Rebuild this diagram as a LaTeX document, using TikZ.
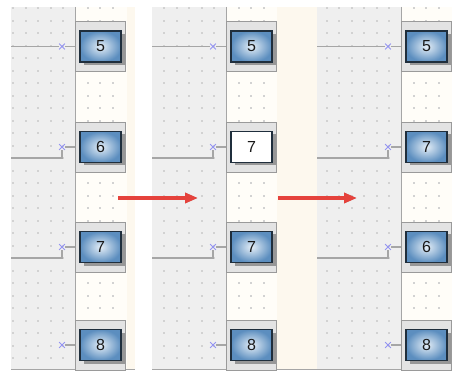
\documentclass[tikz,border=0pt]{standalone}
\usepackage{fontspec}
\setmainfont{Liberation Sans}
\usepackage{tikz}
\usetikzlibrary{arrows.meta, shapes.misc, shadows}
\definecolor{panelgray}{HTML}{EFEFEF}
\definecolor{gridgray}{HTML}{D2D2D2}
\definecolor{lightcream}{HTML}{FFFDF8}
\definecolor{cream}{HTML}{FDF8EE}
\definecolor{edgegray}{HTML}{A6A6A6}
\definecolor{framegray}{HTML}{E3E3E3}
\definecolor{frameedge}{HTML}{9A9A9A}
\definecolor{cellblue}{HTML}{5C8EBF}
\definecolor{cellglow}{HTML}{E4EEF7}
\definecolor{celledge}{HTML}{1F2E3C}
\definecolor{markblue}{HTML}{9494F2}
\definecolor{arrowred}{HTML}{E5423C}

\begin{document}
\begin{tikzpicture}[x=1pt, y=-1pt,
  every node/.style={font=\fontsize{16}{19}\selectfont, text=black!90},
  frame/.style={draw=frameedge, fill=framegray, minimum width=50pt, minimum height=50pt, inner sep=0pt},
  cell/.style={draw=celledge, line width=1.2pt, shading=radial, inner color=cellglow, outer color=cellblue,
    minimum width=41pt, minimum height=31pt, inner sep=0pt,
    drop shadow={shadow xshift=3.5pt, shadow yshift=-3pt, fill=black!70, opacity=.5}},
  cellw/.style={cell, shading=radial, inner color=white, outer color=white},
  marker/.style={cross out, draw=markblue, line width=0.8pt, minimum size=5pt, inner sep=0pt},
  wire/.style={draw=edgegray, line width=1.3pt},
  divider/.style={draw=edgegray, line width=1pt},
  flow/.style={-{Triangle[length=13pt, width=10pt]}, line width=3.5pt, arrowred},
  flowshadow/.style={flow, gray, opacity=.35, yshift=-1.5pt}
]
\useasboundingbox[fill=white] (0,0) rectangle (452,371);

% Panel 1: before
\fill[panelgray] (11,7) rectangle (75,369);
\fill[lightcream] (75,7) rectangle (127,369);
\fill[cream] (127,7) rectangle (135,369);
\foreach \x in {13,25.5,38,50.5,63,87.5,100,112.5}
  \foreach \y in {8.3,20.8,...,358.3}
    \fill[gridgray] (\x-1,\y-1) rectangle +(2,2);
\draw[divider] (75,7) -- (75,369);
\draw[divider] (11,369) -- (135,369);
\node[frame] (p1f5) at (100,46.5) {};
\node[frame] (p1f6) at (100,147) {};
\node[frame] (p1f7) at (100,247) {};
\node[frame] (p1f8) at (100,345) {};
\node[cell] (p1c5) at (100.5,46.5) {5};
\node[cell] (p1c6) at (100.5,147) {6};
\node[cell] (p1c7) at (100.5,247) {7};
\node[cell] (p1c8) at (100.5,345) {8};
\coordinate (p1s5) at (11,46.5);
\coordinate (p1s6) at (11,158);
\coordinate (p1s7) at (11,258);
\node[marker] (p1m5) at (62,46.5) {};
\node[marker] (p1m6) at (62,147) {};
\node[marker] (p1m7) at (62,247) {};
\node[marker] (p1m8) at (62,345) {};
\draw[wire] (p1s5) -- (p1m5);
\draw[wire] (p1s6) -| (p1m6);
\draw[wire] (p1s7) -| (p1m7);
\draw[wire] (p1m5) -- (p1f5);
\draw[wire] (p1m6) -- (p1f6);
\draw[wire] (p1m7) -- (p1f7);
\draw[wire] (p1m8) -- (p1f8);

% Panel 2: copy placed
\fill[panelgray] (152,7) rectangle (226,369);
\fill[lightcream] (226,7) rectangle (277,369);
\fill[cream] (277,7) rectangle (317,369);
\foreach \x in {164,176.5,189,201.5,214,238.5,251,263.5}
  \foreach \y in {8.3,20.8,...,358.3}
    \fill[gridgray] (\x-1,\y-1) rectangle +(2,2);
\draw[divider] (226,7) -- (226,369);
\draw[divider] (152,369) -- (317,369);
\node[frame] (p2f5) at (251,46.5) {};
\node[frame] (p2f7a) at (251,147) {};
\node[frame] (p2f7b) at (251,247) {};
\node[frame] (p2f8) at (251,345) {};
\node[cell] (p2c5) at (251.5,46.5) {5};
\node[cellw] (p2c7a) at (251.5,147) {7};
\node[cell] (p2c7b) at (251.5,247) {7};
\node[cell] (p2c8) at (251.5,345) {8};
\coordinate (p2s5) at (152,46.5);
\coordinate (p2s7a) at (152,158);
\coordinate (p2s7b) at (152,258);
\node[marker] (p2m5) at (213,46.5) {};
\node[marker] (p2m7a) at (213,147) {};
\node[marker] (p2m7b) at (213,247) {};
\node[marker] (p2m8) at (213,345) {};
\draw[wire] (p2s5) -- (p2m5);
\draw[wire] (p2s7a) -| (p2m7a);
\draw[wire] (p2s7b) -| (p2m7b);
\draw[wire] (p2m5) -- (p2f5);
\draw[wire] (p2m7a) -- (p2f7a);
\draw[wire] (p2m7b) -- (p2f7b);
\draw[wire] (p2m8) -- (p2f8);

% Panel 3: after
\fill[panelgray] (317,7) rectangle (401,369);
\fill[lightcream] (401,7) rectangle (452,369);
\foreach \x in {326.5,339,351.5,364,376.5,389,413.5,426,438.5}
  \foreach \y in {8.3,20.8,...,358.3}
    \fill[gridgray] (\x-1,\y-1) rectangle +(2,2);
\draw[divider] (401,7) -- (401,369);
\draw[divider] (317,369) -- (452,369);
\node[frame] (p3f5) at (426,46.5) {};
\node[frame] (p3f7) at (426,147) {};
\node[frame] (p3f6) at (426,247) {};
\node[frame] (p3f8) at (426,345) {};
\node[cell] (p3c5) at (426.5,46.5) {5};
\node[cell] (p3c7) at (426.5,147) {7};
\node[cell] (p3c6) at (426.5,247) {6};
\node[cell] (p3c8) at (426.5,345) {8};
\coordinate (p3s5) at (317,46.5);
\coordinate (p3s7) at (317,158);
\coordinate (p3s6) at (317,258);
\node[marker] (p3m5) at (388,46.5) {};
\node[marker] (p3m7) at (388,147) {};
\node[marker] (p3m6) at (388,247) {};
\node[marker] (p3m8) at (388,345) {};
\draw[wire] (p3s5) -- (p3m5);
\draw[wire] (p3s7) -| (p3m7);
\draw[wire] (p3s6) -| (p3m6);
\draw[wire] (p3m5) -- (p3f5);
\draw[wire] (p3m7) -- (p3f7);
\draw[wire] (p3m6) -- (p3f6);
\draw[wire] (p3m8) -- (p3f8);

% Arrows between panels
\coordinate (a1s) at (118,198);
\coordinate (a1e) at (198,198);
\coordinate (a2s) at (278,198);
\coordinate (a2e) at (357,198);
\draw[flowshadow] (a1s) -- (a1e);
\draw[flowshadow] (a2s) -- (a2e);
\draw[flow] (a1s) -- (a1e);
\draw[flow] (a2s) -- (a2e);

\end{tikzpicture}
\end{document}
